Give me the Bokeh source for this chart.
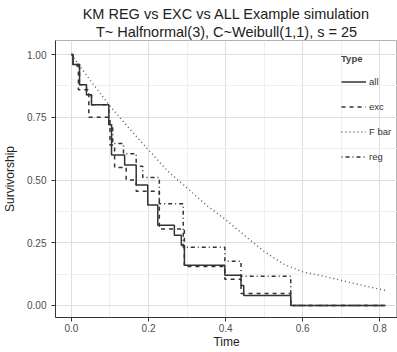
from bokeh.plotting import figure
from bokeh.models import Range1d, FixedTicker, NumeralTickFormatter, Legend, LegendItem, Title
from bokeh.embed import file_html
from bokeh.resources import INLINE

# ---- data ----
all_time = [0.0, 0.004, 0.021, 0.039, 0.052, 0.097, 0.104, 0.138, 0.168, 0.198, 0.224, 0.267, 0.285, 0.293, 0.398, 0.440, 0.447, 0.569, 0.815]
all_surv = [1.00, 0.96, 0.88, 0.84, 0.80, 0.72, 0.60, 0.56, 0.48, 0.40, 0.32, 0.28, 0.24, 0.16, 0.12, 0.08, 0.04, 0.00, 0.00]

exc_time = [0.0, 0.004, 0.018, 0.045, 0.100, 0.112, 0.142, 0.168, 0.228, 0.293, 0.398, 0.440, 0.569, 0.815]
exc_surv = [1.00, 0.955, 0.86, 0.75, 0.64, 0.55, 0.50, 0.455, 0.305, 0.155, 0.104, 0.048, 0.00, 0.00]

reg_time = [0.0, 0.004, 0.021, 0.039, 0.052, 0.097, 0.107, 0.135, 0.168, 0.185, 0.228, 0.290, 0.398, 0.440, 0.569, 0.815]
reg_surv = [1.00, 0.96, 0.88, 0.84, 0.80, 0.72, 0.645, 0.605, 0.555, 0.51, 0.405, 0.232, 0.176, 0.116, 0.00, 0.00]

fbar_time = [0.0, 0.05, 0.10, 0.15, 0.20, 0.25, 0.30, 0.35, 0.40, 0.45, 0.50, 0.55, 0.60, 0.65, 0.70, 0.75, 0.80, 0.815]
fbar_surv = [1.00, 0.895, 0.795, 0.705, 0.62, 0.535, 0.468, 0.40, 0.342, 0.278, 0.215, 0.165, 0.134, 0.118, 0.10, 0.082, 0.065, 0.060]

x_ticks = [0.0, 0.2, 0.4, 0.6, 0.8]
y_ticks = [0.0, 0.25, 0.50, 0.75, 1.00]

FONT = "Liberation Sans"
LINE = "#333333"

p = figure(width=397, height=352, output_backend="svg", toolbar_location=None,
           x_range=Range1d(-0.0414, 0.846), y_range=Range1d(-0.048, 1.056),
           min_border_left=54, min_border_right=0, min_border_bottom=35, min_border_top=40)
p.title = None

t2 = Title(text="T~ Halfnormal(3), C~Weibull(1,1), s = 25", align="center",
           text_font=FONT, text_font_size="14.5px", text_font_style="normal", text_color="#222222",
           standoff=1, offset=0)
t1 = Title(text="KM REG vs EXC vs ALL Example simulation", align="center",
           text_font=FONT, text_font_size="14.5px", text_font_style="normal", text_color="#222222",
           standoff=0, offset=0)
p.add_layout(t2, "above")
p.add_layout(t1, "above")

p.background_fill_color = "white"
p.border_fill_color = "white"
p.outline_line_color = "#b3b3b3"

p.xaxis.ticker = FixedTicker(ticks=x_ticks, minor_ticks=[0.1, 0.3, 0.5, 0.7])
p.yaxis.ticker = FixedTicker(ticks=y_ticks, minor_ticks=[0.125, 0.375, 0.625, 0.875])
p.xaxis.formatter = NumeralTickFormatter(format="0.0")
p.yaxis.formatter = NumeralTickFormatter(format="0.00")

for ax in (p.xaxis[0], p.yaxis[0]):
    ax.axis_line_color = "#333333"
    ax.axis_line_width = 1
    ax.major_tick_line_color = "#333333"
    ax.major_tick_out = 4
    ax.major_tick_in = 0
    ax.minor_tick_line_color = None
    ax.major_label_text_font = FONT
    ax.major_label_text_font_size = "10px"
    ax.major_label_text_color = "#4d4d4d"
    ax.axis_label_text_font = FONT
    ax.axis_label_text_font_size = "12px"
    ax.axis_label_text_font_style = "normal"
    ax.axis_label_text_color = "#222222"

p.xaxis.major_label_standoff = 2
p.xaxis.axis_label_standoff = 0
p.yaxis.major_label_standoff = 5
p.yaxis.axis_label_standoff = 7

p.xaxis.axis_label = "Time"
p.yaxis.axis_label = "Survivorship"

p.xgrid.grid_line_color = "#dedede"
p.ygrid.grid_line_color = "#dedede"
p.xgrid.minor_grid_line_color = "#efefef"
p.ygrid.minor_grid_line_color = "#efefef"

r_all = p.step(all_time, all_surv, mode="after", line_color=LINE, line_width=1.5)
r_exc = p.step(exc_time, exc_surv, mode="after", line_color=LINE, line_width=1.5, line_dash="4 4")
r_fbar = p.line(fbar_time, fbar_surv, line_color="#555555", line_width=1.4, line_dash="1 3")
r_reg = p.step(reg_time, reg_surv, mode="after", line_color=LINE, line_width=1.5, line_dash="1 3 4 3")

legend = Legend(items=[LegendItem(label="all", renderers=[r_all]),
                       LegendItem(label="exc", renderers=[r_exc]),
                       LegendItem(label="F bar", renderers=[r_fbar]),
                       LegendItem(label="reg", renderers=[r_reg])],
                location=(286, 148), title="Type",
                title_text_font=FONT, title_text_font_size="9.5px", title_text_font_style="bold",
                label_text_font=FONT, label_text_font_size="9.5px", label_text_color="#333333",
                glyph_width=25, glyph_height=25, spacing=0, padding=2, margin=0,
                label_standoff=3, background_fill_alpha=0, border_line_color=None,
                title_standoff=5)
p.add_layout(legend, "center")

open("out.html", "w").write(file_html(p, INLINE))
